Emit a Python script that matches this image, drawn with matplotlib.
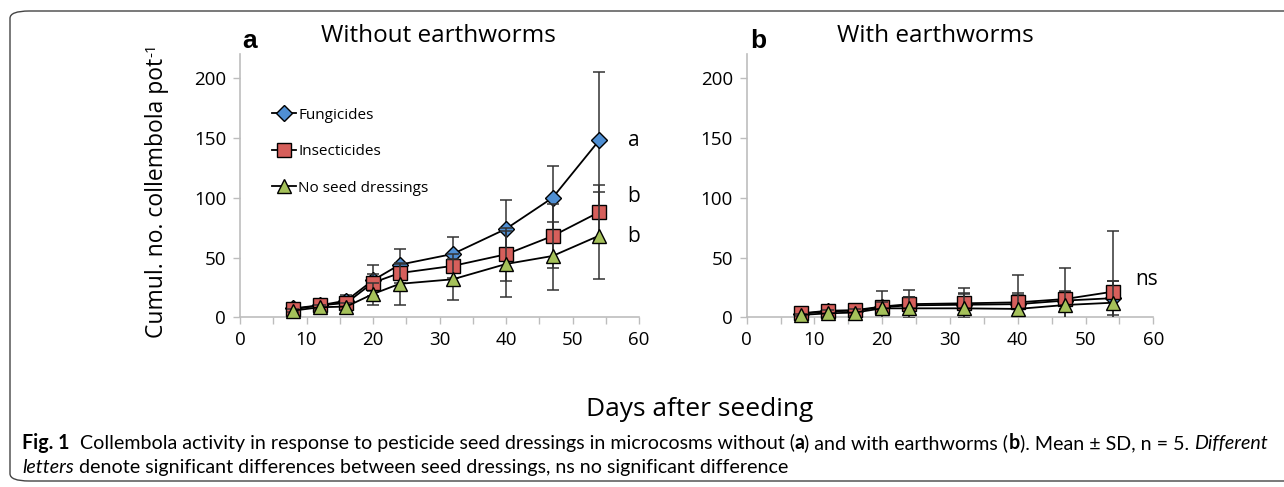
import matplotlib
matplotlib.use("Agg")
import matplotlib.pyplot as plt
from matplotlib.patches import FancyBboxPatch
from matplotlib.ticker import MultipleLocator
from matplotlib.lines import Line2D

# ---------------- data ----------------
days = [8, 12, 16, 20, 24, 32, 40, 47, 54]
series_names = ["Fungicides", "Insecticides", "No seed dressings"]

# Panel a: without earthworms
a_fung = [7.5, 10, 14, 31, 44, 53, 74, 100, 148]
a_fung_sd = [1.5, 2, 5, 13, 13, 14, 24, 27, 57]
a_ins = [6.7, 10, 12, 29, 37, 43, 52.7, 68, 88]
a_ins_sd = [1, 3, 3, 7, 8, 10, 22, 27, 23]
a_none = [5.6, 8.4, 9, 19.5, 28, 31.8, 44.6, 51.3, 68.3]
a_none_sd = [1, 2, 3, 9, 17.5, 17, 28, 28.5, 36.5]

# Panel b: with earthworms
b_fung = [3, 5, 5.5, 8.5, 10, 10.5, 11, 14, 16]
b_fung_sd = [1, 3, 3, 5, 7, 9, 8, 7, 14]
b_ins = [3.3, 5.5, 6, 9, 11, 11.7, 12.5, 15.3, 21.4]
b_ins_sd = [1, 5, 5, 13, 12, 12.7, 22.5, 26, 51]
b_none = [2, 3.3, 4, 7.5, 7.5, 7.5, 7, 10.3, 12.2]
b_none_sd = [1, 3, 3, 5, 9.5, 12.5, 13, 12, 18]

a_letters = ["a", "b", "b"]
a_letter_y = [148, 101, 68]
b_letters = ["ns"]
b_letter_y = [32]

# ---------------- style ----------------
W, H = 1284, 487
fig = plt.figure(figsize=(W / 100, H / 100), dpi=100)
FONT = "Open Sans"

colors = ["#4F8FD3", "#D65F5B", "#A5C15A"]
markers = ["D", "s", "^"]
msizes = [8.5, 10, 10.5]
axis_gray = "#BDBDBD"

def px_ax(x0, x1, y0, y1):
    return fig.add_axes([x0 / W, 1 - y1 / H, (x1 - x0) / W, (y1 - y0) / H])

# border box
border = FancyBboxPatch((10 / W, 6 / H), 1300 / W, 470 / H,
                        boxstyle="round,pad=0,rounding_size=0.015",
                        transform=fig.transFigure, fill=False,
                        edgecolor="#444444", linewidth=1.0, clip_on=False)
fig.patches.append(border)

def style_axes(ax):
    ax.set_xlim(0, 60)
    ax.set_ylim(0, 220)
    ax.xaxis.set_major_locator(MultipleLocator(10))
    ax.xaxis.set_minor_locator(MultipleLocator(5))
    ax.set_yticks([0, 50, 100, 150, 200])
    for s in ["top", "right"]:
        ax.spines[s].set_visible(False)
    for s in ["left", "bottom"]:
        ax.spines[s].set_color(axis_gray)
        ax.spines[s].set_linewidth(1.2)
    ax.tick_params(axis="both", which="both", direction="out", color=axis_gray,
                   width=1.0, length=5, labelsize=13.5, pad=5)
    for lab in ax.get_xticklabels() + ax.get_yticklabels():
        lab.set_fontfamily(FONT)
    ax.patch.set_alpha(0)

def draw_series(ax, ys, sds):
    for i, (y, sd) in enumerate(zip(ys, sds)):
        ax.errorbar(days, y, yerr=sd, fmt="none", ecolor="#333333",
                    elinewidth=1.1, capsize=4.5, capthick=1.1, zorder=2 + i * 2)
        ax.plot(days, y, color="black", lw=1.3, marker=markers[i],
                markersize=msizes[i], markerfacecolor=colors[i],
                markeredgecolor="black", markeredgewidth=1.0, zorder=3 + i * 2,
                clip_on=False)

# Panel a
ax1 = px_ax(240, 639, 54.4, 317.3)
style_axes(ax1)
draw_series(ax1, [a_fung, a_ins, a_none], [a_fung_sd, a_ins_sd, a_none_sd])
for yv, lab in zip(a_letter_y, a_letters):
    ax1.text(58.3, yv, lab, fontsize=15, family=FONT, va="center", ha="left",
             clip_on=False)

handles = [Line2D([0], [0], color="black", lw=1.3, marker=markers[i],
                  markersize=msizes[i], markerfacecolor=colors[i],
                  markeredgecolor="black", markeredgewidth=1.0)
           for i in range(3)]
ax1.legend(handles, series_names, loc="upper left",
           bbox_to_anchor=(0.065, 0.82), frameon=False,
           prop={"family": FONT, "size": 11}, handlelength=1.6,
           handletextpad=0.1, labelspacing=1.4, borderaxespad=0)

# Panel b
ax2 = px_ax(746.7, 1153.3, 54.4, 317.3)
style_axes(ax2)
draw_series(ax2, [b_fung, b_ins, b_none], [b_fung_sd, b_ins_sd, b_none_sd])
for yv, lab in zip(b_letter_y, b_letters):
    ax2.text(57.3, yv, lab, fontsize=15, family=FONT, va="center",
             ha="left", clip_on=False)

# titles and panel letters
fig.text(438 / W, 1 - 36 / H, "Without earthworms", fontsize=17.5, family=FONT,
         ha="center", va="center")
fig.text(935 / W, 1 - 36 / H, "With earthworms", fontsize=17.5, family=FONT,
         ha="center", va="center")
fig.text(250 / W, 1 - 41 / H, "a", fontsize=19, family="Liberation Sans",
         weight="bold", ha="center", va="center")
fig.text(758 / W, 1 - 41 / H, "b", fontsize=19, family="Liberation Sans",
         weight="bold", ha="center", va="center")

renderer = fig.canvas.get_renderer()

# y label with superscript
yl = fig.text(157 / W, 1 - 198 / H, "Cumul. no. collembola pot", fontsize=16.5,
              family=FONT, rotation=90, ha="center", va="center")
bb = yl.get_window_extent(renderer=renderer)
fig.text((bb.x0 - 1) / W, (bb.y1 + 1) / H, "-1", fontsize=11, family=FONT,
         rotation=90, ha="left", va="bottom")

# x label
fig.text(700 / W, 1 - 410 / H, "Days after seeding", fontsize=19, family=FONT,
         ha="center", va="center")

# caption, built piece by piece and scaled to the reference width
CAP = "Lato"
def write_line(x_px, y_px, pieces, size, draw=True):
    x = x_px
    objs = []
    for txt, kw in pieces:
        t = fig.text(x / W, 1 - y_px / H, txt, fontsize=size, family=CAP,
                     ha="left", va="baseline", **kw)
        x += t.get_window_extent(renderer=renderer).width
        objs.append(t)
    if not draw:
        for t in objs:
            t.remove()
    return x - x_px

line1 = [("Fig. 1", {"weight": "bold"}),
         ("  Collembola activity in response to pesticide seed dressings in microcosms without (", {}),
         ("a", {"weight": "bold"}),
         (") and with earthworms (", {}),
         ("b", {"weight": "bold"}),
         ("). Mean \u00b1 SD, n = 5. ", {}),
         ("Different", {"style": "italic"})]
line2 = [("letters", {"style": "italic"}),
         (" denote significant differences between seed dressings, ns no significant difference", {})]
w0 = write_line(22, 449, line1, 12, draw=False)
size = 12 * 1240 / w0
write_line(22, 449, line1, size)
write_line(22, 473, line2, size)

fig.savefig("out.png", dpi=100)
